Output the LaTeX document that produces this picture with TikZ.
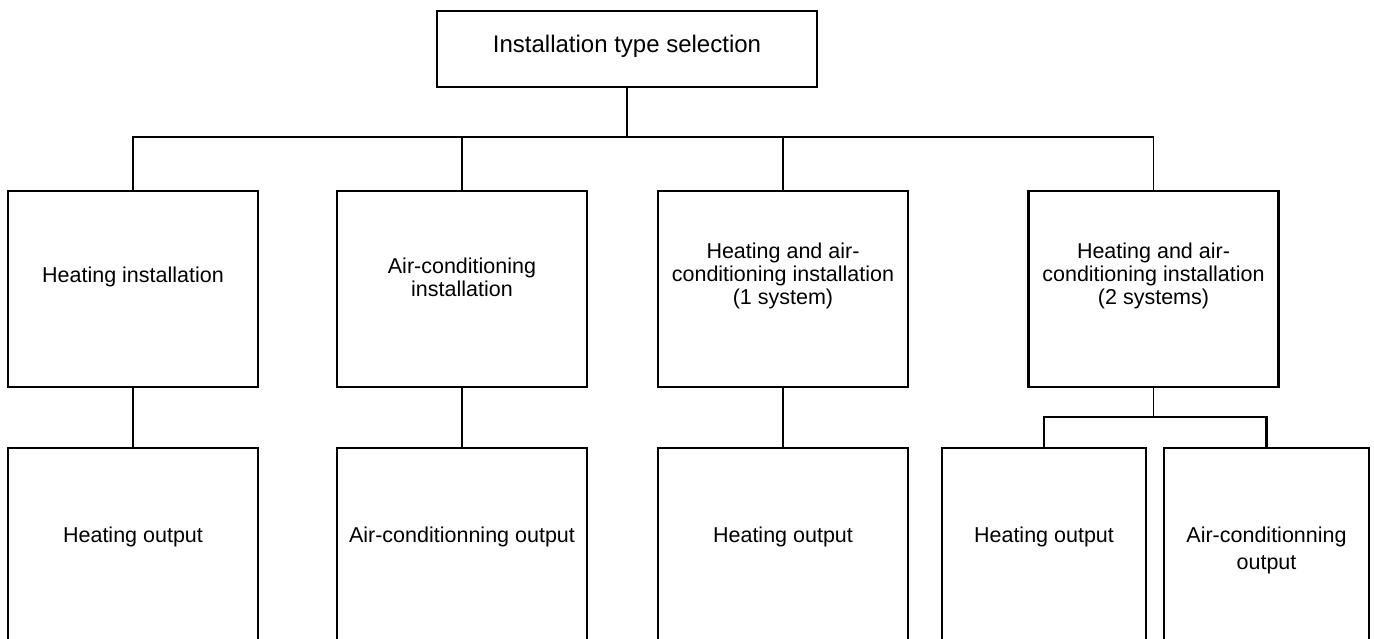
\documentclass[tikz,border=0pt]{standalone}
\usepackage{fontspec}
\setmainfont{Liberation Sans}
\usetikzlibrary{positioning}
\tikzset{
  box/.style={draw, line width=2.2pt, minimum width=250pt, inner sep=0pt},
  conn/.style={line width=2.2pt},
  thinconn/.style={line width=1pt},
  txt/.style={align=center, inner sep=0pt, font=\fontsize{21.5}{23}\selectfont},
}

\begin{document}
\begin{tikzpicture}[x=1pt, y=-1pt]
	\clip (0,0) rectangle (1374,638);
	% top box
	\node[box, minimum width=380pt, minimum height=76pt] (sel) at (627,49) {};
	\node[txt, font=\fontsize{24}{26}\selectfont] (sel-t) at (627,46) {Installation type selection};
	% installation boxes
	\node[box, minimum height=196pt] (hinst) at (133,289) {};
	\node[box, minimum height=196pt] (ainst) at (462,289) {};
	\node[box, minimum height=196pt] (hainst) at (783,289) {};
	\node[box, minimum height=196pt] (hainst2) at (1153.5,289) {};
	% output boxes, cut off at the bottom
	\node[box, minimum height=250pt] (hout) at (133,573) {};
	\node[box, minimum height=250pt] (aout) at (462,573) {};
	\node[box, minimum height=250pt] (haout) at (783,573) {};
	\node[box, minimum width=204pt, minimum height=250pt] (hout2) at (1044,573) {};
	\node[box, minimum width=205pt, minimum height=250pt] (aout2) at (1266.5,573) {};
	% texts
	\node[txt] (hinst-t) at (133,277) {Heating installation};
	\node[txt] (ainst-t) at (462,277) {Air-conditioning\\installation};
	\node[txt] (hainst-t) at (783,276) {Heating and air-\\conditioning installation\\(1 system)};
	\node[txt] (hainst2-t) at (1153.5,276) {Heating and air-\\conditioning installation\\(2 systems)};
	\node[txt] (hout-t) at (133,537) {Heating output};
	\node[txt] (aout-t) at (462,537) {Air-conditionning output};
	\node[txt] (haout-t) at (783,537) {Heating output};
	\node[txt] (hout2-t) at (1044,537) {Heating output};
	\node[txt] (aout2-t) at (1266.5,550) {Air-conditionning\\[4pt]output};
	% connectors
	\coordinate (bus) at (627,137);
	\coordinate (bus2) at (1153.5,417);
	\draw[conn] (sel) -- (bus);
	\draw[conn] (hinst.north) |- (bus);
	\draw[conn] (ainst.north) |- (bus);
	\draw[conn] (hainst.north) |- (bus);
	\draw[conn] (bus) -- (bus -| hainst2.north);
	\draw[thinconn] (bus -| hainst2.north) -- (hainst2.north);
	\draw[conn] (hinst) -- (hout);
	\draw[conn] (ainst) -- (aout);
	\draw[conn] (hainst) -- (haout);
	\draw[thinconn] (hainst2) -- (bus2);
	\draw[conn] (hout2.north) |- (bus2);
	\draw[conn] (aout2.north) |- (bus2);
\end{tikzpicture}
\end{document}
